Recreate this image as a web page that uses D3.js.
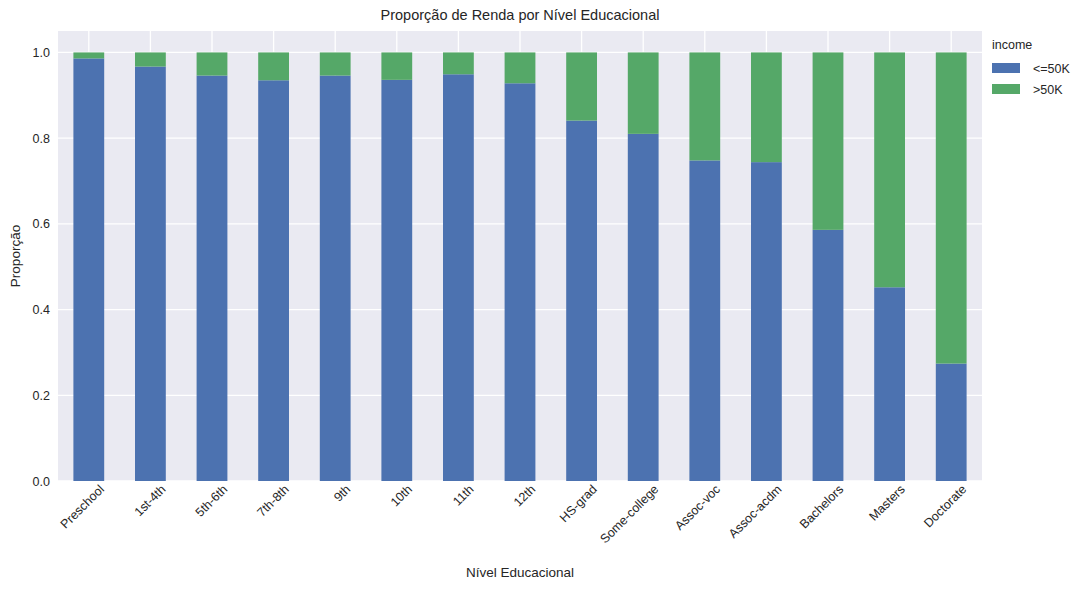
<!DOCTYPE html>
<html><head><meta charset="utf-8">
<script src="https://cdn.jsdelivr.net/npm/d3@7"></script>
<style>
body{margin:0;background:#fff;font-family:"Liberation Sans",Arial,sans-serif;}
.axis text{font-size:12.5px;fill:#262626;}
.axis path,.axis line{display:none;}
</style></head><body>
<svg id="chart" width="1087" height="590"></svg>
<script>
const categories = ['Preschool','1st-4th','5th-6th','7th-8th','9th','10th','11th','12th','HS-grad','Some-college','Assoc-voc','Assoc-acdm','Bachelors','Masters','Doctorate'];
const low = [0.986,0.967,0.946,0.935,0.946,0.936,0.949,0.928,0.841,0.810,0.748,0.744,0.586,0.452,0.274];
const high = low.map(v => 1 - v);
const seriesNames = ['<=50K','>50K'];
const colors = ['#4c72b0','#55a868'];
const yTicks = [0,0.2,0.4,0.6,0.8,1.0];

const margin = {top: 31, right: 105, bottom: 109, left: 58};
const W = 1087, H = 590;
const width = W - margin.left - margin.right;
const height = H - margin.top - margin.bottom;

const svg = d3.select('#chart');
const g = svg.append('g').attr('transform', `translate(${margin.left},${margin.top})`);

g.append('rect').attr('width', width).attr('height', height).attr('fill', '#eaeaf2');

const x = d3.scaleBand().domain(categories).range([0, width]).paddingInner(0.5).paddingOuter(0.25);
const y = d3.scaleLinear().domain([0, 1.05]).range([height, 0]);

g.selectAll('.vgrid').data(categories).enter().append('line')
    .attr('x1', d => x(d) + x.bandwidth() / 2).attr('x2', d => x(d) + x.bandwidth() / 2)
    .attr('y1', 0).attr('y2', height).attr('stroke', '#fff').attr('stroke-width', 1.3);
g.selectAll('.hgrid').data(yTicks).enter().append('line')
    .attr('x1', 0).attr('x2', width).attr('y1', d => y(d)).attr('y2', d => y(d))
    .attr('stroke', '#fff').attr('stroke-width', 1.3);

const stacked = d3.stack().keys([0, 1])(categories.map((c, i) => ({0: low[i], 1: high[i]})));
stacked.forEach((layer, k) => {
    g.selectAll('.bar' + k).data(layer).enter().append('rect')
        .attr('x', (d, i) => x(categories[i]))
        .attr('width', x.bandwidth())
        .attr('y', d => y(d[1]))
        .attr('height', d => y(d[0]) - y(d[1]))
        .attr('fill', colors[k]);
});

g.append('g').attr('class', 'axis').attr('transform', `translate(0,${height})`)
    .call(d3.axisBottom(x).tickSize(0).tickPadding(9))
    .selectAll('text')
    .attr('text-anchor', 'end')
    .attr('dx', '0.4em').attr('dy', '0.7em')
    .attr('transform', 'rotate(-45)');

g.append('g').attr('class', 'axis')
    .call(d3.axisLeft(y).tickValues(yTicks).tickFormat(d3.format('.1f')).tickSize(0).tickPadding(8));

svg.append('text').attr('x', margin.left + width / 2).attr('y', 20).attr('text-anchor', 'middle')
    .attr('font-size', 14.5).attr('fill', '#262626').text('Proporção de Renda por Nível Educacional');
svg.append('text').attr('x', margin.left + width / 2).attr('y', 577).attr('text-anchor', 'middle')
    .attr('font-size', 13.5).attr('fill', '#262626').text('Nível Educacional');
svg.append('text').attr('transform', `translate(20,${margin.top + height / 2}) rotate(-90)`)
    .attr('text-anchor', 'middle').attr('font-size', 13.5).attr('fill', '#262626').text('Proporção');

const legend = svg.append('g').attr('transform', `translate(${margin.left + width + 10},${margin.top})`);
legend.append('text').attr('x', 0).attr('y', 18).attr('font-size', 12.5).attr('fill', '#262626').text('income');
seriesNames.forEach((s, i) => {
    const row = legend.append('g').attr('transform', `translate(0,${32 + i * 21})`);
    row.append('rect').attr('width', 28).attr('height', 10).attr('fill', colors[i]);
    row.append('text').attr('x', 41).attr('y', 9.5).attr('font-size', 12.5).attr('fill', '#262626').text(s);
});
</script>
</body></html>
